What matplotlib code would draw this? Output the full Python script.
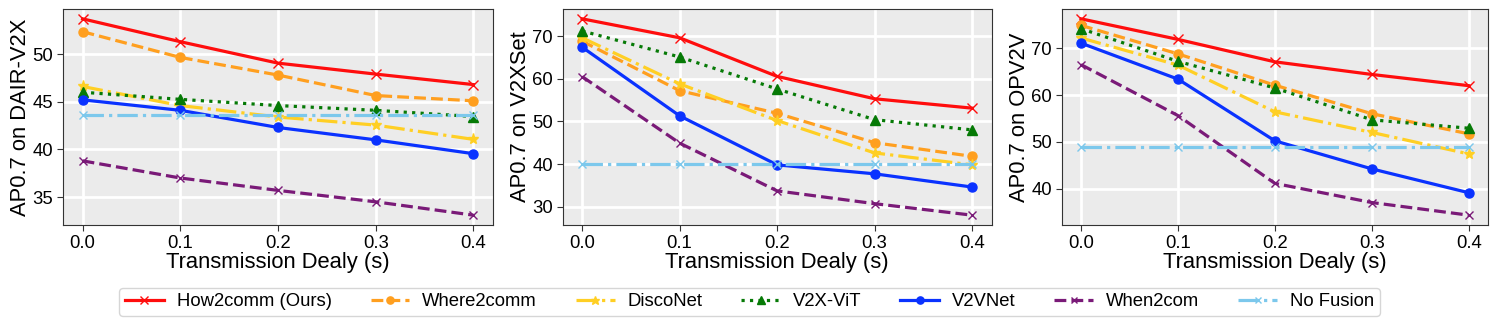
import numpy as np
import matplotlib
matplotlib.use('Agg')
import matplotlib.pyplot as plt

plt.rcParams['font.family'] = ['Liberation Sans', 'DejaVu Sans']

delays = [0.0, 0.1, 0.2, 0.3, 0.4]
methods = ['How2comm (Ours)', 'Where2comm', 'DiscoNet', 'V2X-ViT', 'V2VNet', 'When2com', 'No Fusion']

dair = {
    'How2comm (Ours)': [53.7, 51.3, 49.05, 47.9, 46.8],
    'Where2comm': [52.35, 49.65, 47.8, 45.65, 45.1],
    'DiscoNet': [46.6, 44.6, 43.4, 42.55, 41.05],
    'V2X-ViT': [46.0, 45.25, 44.6, 44.1, 43.45],
    'V2VNet': [45.2, 44.1, 42.3, 41.0, 39.55],
    'When2com': [38.8, 37.0, 35.7, 34.5, 33.1],
    'No Fusion': [43.6, 43.6, 43.6, 43.6, 43.6],
}
v2xset = {
    'How2comm (Ours)': [74.05, 69.6, 60.55, 55.3, 53.1],
    'Where2comm': [68.8, 57.2, 51.9, 45.0, 41.8],
    'DiscoNet': [69.6, 58.8, 50.2, 42.6, 39.8],
    'V2X-ViT': [71.2, 65.1, 57.6, 50.4, 48.0],
    'V2VNet': [67.4, 51.3, 39.8, 37.7, 34.6],
    'When2com': [60.5, 44.9, 33.7, 30.7, 28.0],
    'No Fusion': [40.1, 40.1, 40.1, 40.1, 40.1],
}
opv2v = {
    'How2comm (Ours)': [76.3, 71.9, 67.1, 64.4, 62.0],
    'Where2comm': [74.9, 68.8, 62.1, 56.0, 51.7],
    'DiscoNet': [72.2, 66.4, 56.4, 52.0, 47.4],
    'V2X-ViT': [74.2, 67.2, 61.5, 54.7, 52.9],
    'V2VNet': [71.1, 63.4, 50.2, 44.2, 39.1],
    'When2com': [66.5, 55.6, 41.1, 37.0, 34.3],
    'No Fusion': [48.8, 48.8, 48.8, 48.8, 48.8],
}

styles = {
    'How2comm (Ours)': dict(color='#FF0D0D', ls='-', marker='x', ms=7),
    'Where2comm': dict(color='#FF9F1F', ls='--', marker='o', ms=6.5),
    'DiscoNet': dict(color='#FFCF24', ls='-.', marker='*', ms=8),
    'V2X-ViT': dict(color='#067A06', ls=':', marker='^', ms=7),
    'V2VNet': dict(color='#0A32FF', ls='-', marker='o', ms=6.5),
    'When2com': dict(color='#7A1A78', ls='--', marker='x', ms=6),
    'No Fusion': dict(color='#7CC8EC', ls='-.', marker='x', ms=6),
}

fig = plt.figure(figsize=(14.94, 3.25), dpi=100)
boxes = [(0.0422, 0.2878), (0.3766, 0.2871), (0.7106, 0.2855)]
panels = [(dair, 'AP0.7 on DAIR-V2X', [35, 40, 45, 50]),
          (v2xset, 'AP0.7 on V2XSet', [30, 40, 50, 60, 70]),
          (opv2v, 'AP0.7 on OPV2V', [40, 50, 60, 70])]

for (left, width), (data, ylabel, yticks) in zip(boxes, panels):
    ax = fig.add_axes([left, 0.3077, width, 0.6646])
    ax.set_facecolor('#EBEBEB')
    ax.grid(True, color='white', linewidth=2)
    ax.set_axisbelow(True)
    for name in methods:
        st = styles[name]
        ax.plot(delays, data[name], color=st['color'], linestyle=st['ls'],
                marker=st['marker'], markersize=st['ms'], linewidth=2.3, label=name)
    ax.set_xticks(delays)
    ax.set_yticks(yticks)
    ax.tick_params(labelsize=13.3, length=4, color='#333333', pad=3)
    ax.set_xlabel('Transmission Dealy (s)', fontsize=15.8, labelpad=0)
    ax.set_ylabel(ylabel, fontsize=15.8, labelpad=1)
    for sp in ax.spines.values():
        sp.set_color('#333333')

handles, labels = ax.get_legend_handles_labels()
fig.legend(handles, labels, loc='center', bbox_to_anchor=(0.5017, 0.0708), ncol=7,
           fontsize=13.3, frameon=True, handlelength=2.1, handletextpad=0.7,
           columnspacing=2.1, borderpad=0.3, markerscale=0.8,
           edgecolor='#CCCCCC', fancybox=True)

fig.savefig('out.png', dpi=100)
